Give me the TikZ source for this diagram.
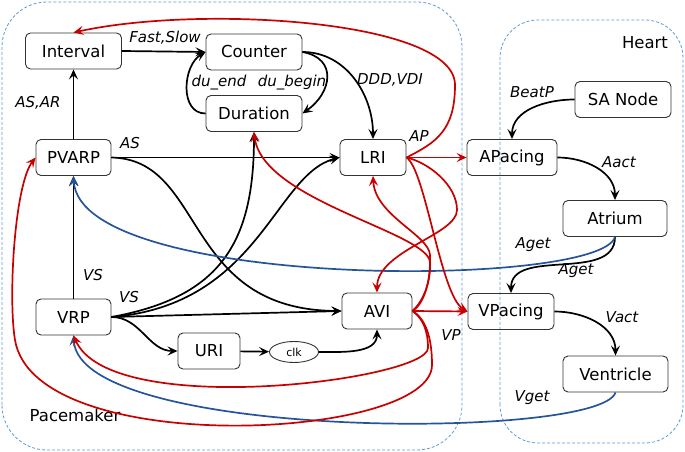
\documentclass[tikz,border=0pt]{standalone}
\usepackage{fontspec}
\setmainfont{DejaVu Sans}
\usetikzlibrary{arrows.meta,shapes.geometric}
\definecolor{pmred}{RGB}{200,0,0}
\definecolor{pmblue}{RGB}{38,84,155}
\definecolor{frameblue}{RGB}{91,155,213}
\begin{document}
\begin{tikzpicture}[x=1pt,y=1pt,>={Stealth[length=10pt,width=9pt,inset=4pt]}]
\tikzset{blk/.style={draw=black!80,line width=0.9pt,rounded corners=5pt,minimum height=36pt,inner sep=2pt,font=\fontsize{16.5}{18}\selectfont}}
\tikzset{lbl/.style={font=\fontsize{15}{17}\selectfont\itshape,inner sep=0pt}}
\tikzset{frame/.style={draw=frameblue,line width=0.8pt,dash pattern=on 3pt off 2pt}}
\tikzset{cn/.style={->,line width=1.7pt}}
\tikzset{rd/.style={cn,color=pmred}, bl/.style={cn,color=pmblue}}
%\tikzset{blk/.style={draw,rounded corners,
%                     minimum width=2cm,
%                     minimum height=1cm
%                    }}
\useasboundingbox (0,0) rectangle (685,452);

% the two parts
\draw[frame,rounded corners=45pt] (2,2) rectangle (462,450);
\draw[frame,rounded corners=38pt] (500,9) rectangle (683,432);
\node[font=\fontsize{16.5}{18}\selectfont] (pm) at (75,37) {Pacemaker};
\node[font=\fontsize{16.5}{18}\selectfont] (ht) at (645,409) {Heart};

% pacemaker
\node[blk,minimum width=96pt] (interval) at (73.5,401) {Interval};
\node[blk,minimum width=96pt] (counter) at (254,400) {Counter};
\node[blk,minimum width=96pt] (duration) at (254,338.5) {Duration};
\node[blk,minimum width=75pt] (pvarp) at (73.5,294.5) {PVARP};
\node[blk,minimum width=66pt] (lri) at (373,294.5) {LRI};
\node[blk,minimum width=75pt] (vrp) at (73.5,135) {VRP};
\node[blk,minimum width=70pt] (avi) at (377,141) {AVI};
\node[blk,minimum width=62pt] (uri) at (209,101) {URI};
\node[draw=black!80,line width=0.9pt,ellipse,minimum width=49pt,minimum height=21pt,inner sep=0pt,font=\fontsize{11}{13}\selectfont] (clk) at (294,100) {clk};

% heart
\node[blk,minimum width=90pt] (apacing) at (512,294.5) {APacing};
\node[blk,minimum width=96pt] (sanode) at (623,352.5) {SA Node};
\node[blk,minimum width=104pt] (atrium) at (615,233.5) {Atrium};
\node[blk,minimum width=86pt] (vpacing) at (511,140.5) {VPacing};
\node[blk,minimum width=105pt] (ventricle) at (615.5,78) {Ventricle};

\coordinate (ltop) at (455,367);
\coordinate (lavi) at (457,242);
\coordinate (aup) at (430,197);
\coordinate (adur) at (430,190);
\coordinate (avrp) at (428,104);
\coordinate (apv1) at (432,87);
\coordinate (apv2) at (15,112);

% black
\draw[cn] (interval.east) -- (counter.west);
\draw[cn] (counter.east) to[out=-10,in=35,looseness=1.5] (duration.east);
\draw[cn] (duration.west) to[out=180,in=210,looseness=1.1] (counter.west);
\draw[cn] (counter.east) to[out=0,in=90] (lri.north);
\draw[cn] (pvarp) -- (interval);
\draw[cn] (pvarp.east) -- (lri.west);
\draw[cn] (pvarp.east) .. controls +(95,-2) and +(-160,1) .. (avi.west);
\draw[cn] (vrp) -- (pvarp);
\draw[cn] (vrp.east) -- (avi.west);
\draw[cn] (vrp.east) .. controls +(110,20) and +(0,-110) .. (duration.south);
\draw[cn] (vrp.east) .. controls +(148,12) and +(-65,-17) .. (lri.west);
\draw[cn] (vrp.east) to[out=0,in=180] (uri.west);
\draw[cn] (uri) -- (clk);
\draw[cn] (clk.east) to[out=0,in=-90] (avi.south);
\draw[cn] (sanode.west) to[out=180,in=90] (apacing.north);
\draw[cn] (apacing.east) to[out=0,in=90] (atrium.north);
\draw[cn] (atrium.south) to[out=-90,in=90] (vpacing.north);
\draw[cn] (vpacing.east) to[out=0,in=90] (ventricle.north);

% blue
\draw[bl] (atrium.south) .. controls +(-15,-52) and +(6,-114) .. (pvarp.south);
\draw[bl] (ventricle.south) .. controls +(-15,-48) and +(6,-105) .. (vrp.south);

% red
\draw[rd] (lri.east) -- (apacing.west);
\draw[rd] (lri.east) .. controls +(30,15) and +(0,-45) .. (ltop)
    .. controls +(0,65) and +(127,28) .. (interval.north);
\draw[rd] (lri.east) .. controls +(22,-5) and +(0,25) .. (lavi)
    .. controls +(0,-25) and +(0,42) .. (avi.north);
\draw[rd] (lri.east) .. controls +(19,-12) and +(-27,16) .. (vpacing.west);
\draw[rd] (avi.east) -- (vpacing.west);
\draw[rd] (avi.east) .. controls +(10,6) and +(1,-30) .. (aup)
    .. controls +(-1,20) and +(2,-39.5) .. (lri.south);
\draw[rd] (avi.east) .. controls +(9,8) and +(1,-23) .. (adur)
    .. controls +(-3,30) and +(8,-68.5) .. (duration.south);
\draw[rd] (avi.east) .. controls +(10,-7) and +(0,18) .. (avrp)
    .. controls +(0,-32) and +(36.5,-85) .. (vrp.south);
\draw[rd] (avi.east) .. controls +(12,-7) and +(0,30) .. (apv1)
    .. controls +(0,-75) and +(20,-120) .. (apv2)
    .. controls +(-7,42) and +(-21,-27.5) .. (pvarp.west);

% labels
\node[lbl] (lfs) at (165,414) {Fast,Slow};
\node[lbl] (lde) at (219,369) {du\_end};
\node[lbl] (ldb) at (292,369) {du\_begin};
\node[lbl] (lasar) at (38,349) {AS,AR};
\node[lbl] (las) at (130,309) {AS};
\node[lbl] (lddd) at (390,372) {DDD,VDI};
\node[lbl] (lap) at (419,316) {AP};
\node[lbl] (lbeat) at (532,360) {BeatP};
\node[lbl] (laact) at (619,290) {Aact};
\node[lbl] (lvs) at (93,177) {VS};
\node[lbl] (lvs2) at (129,155) {VS};
\node[lbl] (laget) at (533,207) {Aget};
\node[lbl] (laget2) at (576,181) {Aget};
\node[lbl] (lvact) at (622,135) {Vact};
\node[lbl] (lvp) at (451,117) {VP};
\node[lbl] (lvget) at (532,54) {Vget};
\end{tikzpicture}
\end{document}
